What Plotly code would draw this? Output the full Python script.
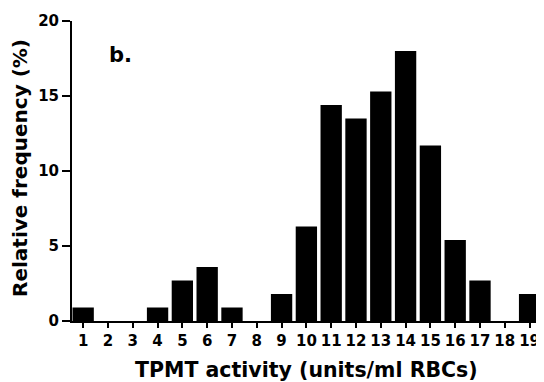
import plotly.graph_objects as go

activity = list(range(1, 20))
frequency = [0.9, 0, 0, 0.9, 2.7, 3.6, 0.9, 0, 1.8, 6.3, 14.4, 13.5, 15.3, 18.0, 11.7, 5.4, 2.7, 0, 1.8]
y_ticks = [0, 5, 10, 15, 20]

FONT = "DejaVu Sans"
OFF = 8  # default page body margin
W, H = 544 - OFF, 382 - OFF
L, R, T, B = 72 - OFF, 2, 21 - OFF, 69 - OFF

fig = go.Figure(go.Bar(x=activity, y=frequency, marker=dict(color="black", line=dict(width=0)), width=0.86))

def px_x(p):
    return (p - OFF - L) / (W - L - R)

def px_y(p):
    return 1 - (p - OFF - T) / (H - T - B)

fig.update_layout(
    width=W, height=H,
    margin=dict(l=L, r=R, t=T, b=B, autoexpand=False),
    plot_bgcolor="white", paper_bgcolor="white",
    font=dict(family=FONT, color="black"),
    showlegend=False,
    xaxis=dict(
        range=[0.55, 19.5], tickmode="array", tickvals=activity, ticktext=[str(a) for a in activity],
        showline=True, linecolor="black", linewidth=2, ticks="outside", ticklen=5, tickwidth=2,
        tickcolor="black", showgrid=False, zeroline=False, automargin=False,
        ticklabeloverflow="allow",
        tickfont=dict(family=FONT, size=15, color="black", weight="bold"),
    ),
    yaxis=dict(
        range=[0, 20], tickmode="array", tickvals=y_ticks,
        showline=True, linecolor="black", linewidth=2, ticks="outside", ticklen=8, tickwidth=2,
        tickcolor="black", showgrid=False, zeroline=False, automargin=False,
        tickfont=dict(family=FONT, size=15, color="black", weight="bold"),
    ),
    annotations=[
        dict(text="b.", x=px_x(107), y=px_y(55), xref="paper", yref="paper", showarrow=False,
             xanchor="left", yanchor="middle", font=dict(family=FONT, size=21, weight="bold")),
        dict(text="TPMT activity (units/ml RBCs)", x=px_x(306), y=px_y(370), xref="paper", yref="paper",
             showarrow=False, xanchor="center", yanchor="middle",
             font=dict(family=FONT, size=20.5, weight="bold")),
        dict(text="Relative frequency (%)", x=px_x(20), y=px_y(168), xref="paper", yref="paper",
             showarrow=False, xanchor="center", yanchor="middle", textangle=-90,
             font=dict(family=FONT, size=20, weight="bold")),
    ],
)

fig.write_html("out.html")
